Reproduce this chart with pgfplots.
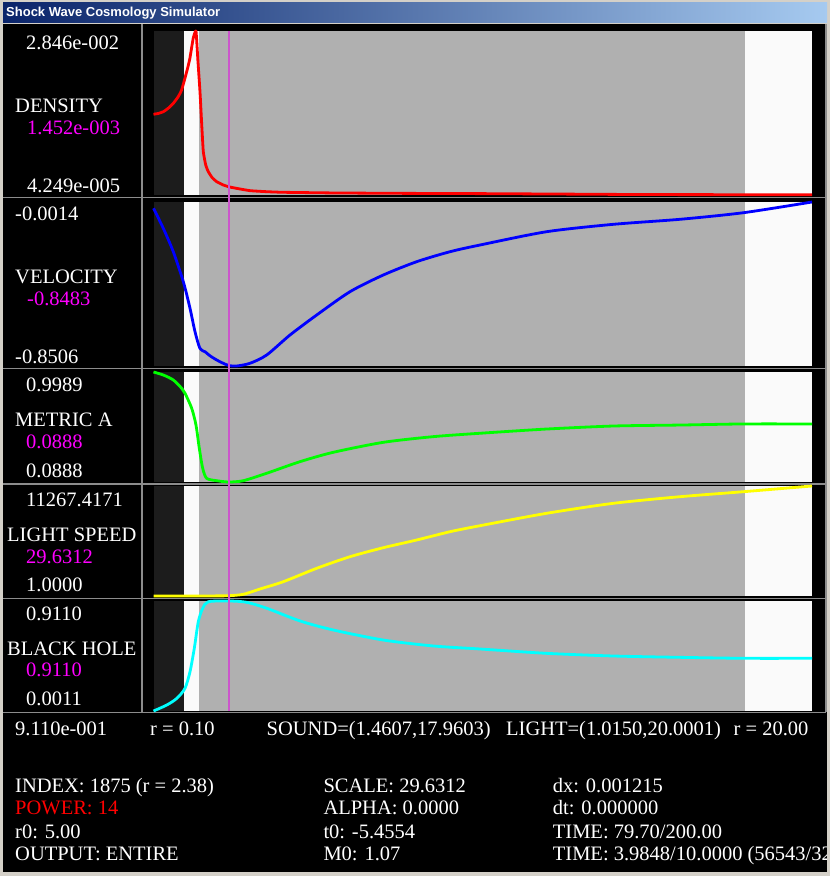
\documentclass[border=0pt]{standalone}
\usepackage{fontspec}
\setmainfont{Liberation Serif}
\newfontfamily\titlefont{Liberation Sans}
\usepackage{pgfplots}
\pgfplotsset{compat=1.18}

\definecolor{winborder}{HTML}{D4D0C8}
\definecolor{titleleft}{HTML}{0A246A}
\definecolor{titleright}{HTML}{A6CAF0}
\definecolor{sepgray}{HTML}{8C8C8C}
\definecolor{stripdark}{HTML}{1C1C1C}
\definecolor{stripwhite}{HTML}{FAFAFA}
\definecolor{stripgray}{HTML}{B0B0B0}
\definecolor{cursorcol}{HTML}{CC55CC}
\definecolor{readout}{HTML}{FF00FF}
\definecolor{cred}{HTML}{FF0000}
\definecolor{cblue}{HTML}{0000FF}
\definecolor{cgreen}{HTML}{00FF00}
\definecolor{cyellow}{HTML}{FFFF00}
\definecolor{ccyan}{HTML}{00FFFF}

% light / sound horizons shade the r axis
\newcommand\strips{%
  \fill[stripdark]  ({axis cs:0.1,0}|-{rel axis cs:0,0}) rectangle ({axis cs:1.015,0}|-{rel axis cs:0,1});
  \fill[stripwhite] ({axis cs:1.015,0}|-{rel axis cs:0,0}) rectangle ({axis cs:1.4607,0}|-{rel axis cs:0,1});
  \fill[stripgray]  ({axis cs:1.4607,0}|-{rel axis cs:0,0}) rectangle ({axis cs:17.9603,0}|-{rel axis cs:0,1});
  \fill[stripwhite] ({axis cs:17.9603,0}|-{rel axis cs:0,0}) rectangle ({axis cs:20,0}|-{rel axis cs:0,1});
}
\newcommand\txt[4][white]{\node[anchor=base west,inner sep=0pt,text=#1] at (#2,876-#3) {#4};}

\pgfplotsset{panel/.style={hide axis, scale only axis, width=658.5pt,
    xmin=0.1, xmax=20, clip=false, anchor=south west},
  curve/.style={line width=2.8pt, line join=round, smooth, tension=0.45}}

\begin{document}
\begin{tikzpicture}[x=1pt,y=1pt,every node/.style={font=\fontsize{20.5}{24}\selectfont}]
% window
\fill[winborder] (0,0) rectangle (830,876);
\fill[black] (3,4) rectangle (827,852);
\shade[left color=titleleft,right color=titleright] (3,853) rectangle (827,873);
\node[anchor=west,inner sep=0pt,text=white,font=\titlefont\bfseries\fontsize{13}{15}\selectfont] at (6,862.5) {Shock Wave Cosmology Simulator};

% separators
\begin{scope}[sepgray,line width=1.2pt]
\draw (3,678.5) -- (826,678.5);
\draw (3,507.5) -- (826,507.5);
\draw (3,392) -- (826,392);
\draw (3,277.5) -- (826,277.5);
\draw (3,163.5) -- (826,163.5);
\draw (142,852) -- (142,163.5);
\draw (826,852) -- (826,163.5);
\end{scope}

% DENSITY
\begin{axis}[panel, at={(153.5pt,681pt)}, height=164pt, ymin=4.249e-5, ymax=2.846e-2]
\strips
\addplot[curve, tension=0.25, cred] coordinates {
(0.10,0.01403) (0.25,0.01418) (0.40,0.01448) (0.55,0.01510) (0.70,0.01593)
(0.85,0.01710) (0.95,0.01824) (1.05,0.02027) (1.13,0.02200) (1.20,0.02373)
(1.30,0.02720) (1.384,0.02846) (1.44,0.02350) (1.505,0.01794) (1.555,0.01250)
(1.605,0.00755) (1.68,0.00520) (1.756,0.00408) (1.88,0.00300) (2.01,0.00235)
(2.20,0.00180) (2.38,0.001452) (2.70,0.00110) (3.02,0.00079) (3.50,0.00062)
(4.02,0.00051) (5.50,0.00040) (7.50,0.00033) (10.0,0.00028) (12.5,0.00020)
(15.0,0.00012) (20.0,0.00008)};
\coordinate (ctop) at ({axis cs:2.38,0}|-{rel axis cs:0,1});
\end{axis}

% VELOCITY
\begin{axis}[panel, at={(153.5pt,510pt)}, height=164pt, ymin=-0.8506, ymax=-0.0014]
\strips
\addplot[curve, cblue] coordinates {
(0.10,-0.0340) (0.396,-0.1376) (0.698,-0.2588) (1.001,-0.4141) (1.203,-0.5518)
(1.354,-0.6730) (1.505,-0.7600) (1.66,-0.7770) (1.80,-0.7970) (2.01,-0.8195)
(2.20,-0.8360) (2.38,-0.8483) (2.614,-0.8506) (3.016,-0.8366) (3.521,-0.7936)
(4.225,-0.6901) (5.032,-0.5865) (6.038,-0.4659) (7.045,-0.3794) (8.054,-0.3105)
(9.061,-0.2588) (9.967,-0.2241) (11.98,-0.1552) (14.0,-0.1169) (16.01,-0.0910)
(17.93,-0.0568) (20.0,-0.0014)};
\end{axis}

% METRIC A
\begin{axis}[panel, at={(153.5pt,394pt)}, height=110pt, ymin=0.0888, ymax=0.9989]
\strips
\addplot[curve, cgreen] coordinates {
(0.10,0.9989) (0.396,0.974) (0.698,0.933) (0.952,0.864) (1.052,0.823)
(1.254,0.699) (1.384,0.560) (1.484,0.368) (1.587,0.202) (1.708,0.119)
(2.01,0.0996) (2.373,0.0888) (2.814,0.0996) (3.521,0.161) (4.527,0.257)
(5.534,0.3345) (7.045,0.417) (8.556,0.464) (9.967,0.492) (11.98,0.527)
(14.0,0.552) (16.01,0.560) (17.93,0.569) (20.0,0.569)};
\end{axis}

% LIGHT SPEED
\begin{axis}[panel, at={(153.5pt,280pt)}, height=110pt, ymin=1, ymax=11267.4171]
\strips
\addplot[curve, cyellow] coordinates {
(0.10,1) (1.50,2) (2.00,12) (2.38,29.63) (2.814,175) (3.318,718) (4.023,1466)
(5.032,2838) (6.038,4026) (7.045,4948) (8.054,5737) (9.061,6587) (9.967,7201)
(11.98,8471) (14.0,9495) (16.01,10171) (17.93,10684) (20.0,11267.4171)};
\end{axis}

% BLACK HOLE
\begin{axis}[panel, at={(153.5pt,165pt)}, height=110pt, ymin=0.0011, ymax=0.9110]
\strips
\addplot[curve, ccyan] coordinates {
(0.10,0.0011) (0.505,0.051) (0.807,0.106) (1.052,0.189) (1.203,0.326)
(1.333,0.520) (1.454,0.740) (1.587,0.851) (1.756,0.905) (2.38,0.9110)
(2.917,0.900) (3.521,0.851) (4.527,0.746) (5.534,0.671) (7.045,0.588)
(8.556,0.539) (9.967,0.514) (11.98,0.478) (14.0,0.456) (16.01,0.445)
(17.93,0.437) (20.0,0.437)};
\coordinate (cbot) at ({axis cs:2.38,0}|-{rel axis cs:0,0});
\end{axis}

% cursor at r = 2.38
\draw[cursorcol,line width=1.3pt] (ctop) -- (cbot);

% left labels
\txt{26}{50}{2.846e-002}
\txt{15}{113}{DENSITY}
\txt[readout]{27}{135}{1.452e-003}
\txt{27}{193}{4.249e-005}
\txt{15}{221}{-0.0014}
\txt{15}{284}{VELOCITY}
\txt[readout]{27}{306}{-0.8483}
\txt{15}{364}{-0.8506}
\txt{26}{392}{0.9989}
\txt{15}{427}{METRIC A}
\txt[readout]{26}{449}{0.0888}
\txt{26}{478}{0.0888}
\txt{26}{507}{11267.4171}
\txt{7}{541.5}{LIGHT SPEED}
\txt[readout]{26}{564}{29.6312}
\txt{26}{592}{1.0000}
\txt{26}{621}{0.9110}
\txt{7}{655.5}{BLACK HOLE}
\txt[readout]{26}{677}{0.9110}
\txt{26}{706}{0.0011}

% status line
\txt{15}{735.5}{9.110e-001}
\txt{150}{735.5}{r = 0.10}
\txt{266.5}{735.5}{SOUND=(1.4607,17.9603)}
\txt{506}{735.5}{LIGHT=(1.0150,20.0001)}
\txt{733.5}{735.5}{r = 20.00}

% info block
\begin{scope}
\clip (3,4) rectangle (826,852);
\txt{15}{792.7}{INDEX: 1875 (r = 2.38)}
\txt[red]{15}{815}{POWER: 14}
\txt{15}{838.3}{r0: 5.00}
\txt{15}{860.7}{OUTPUT: ENTIRE}
\txt{323.3}{792.7}{SCALE: 29.6312}
\txt{323.3}{815}{ALPHA: 0.0000}
\txt{323.3}{838.3}{t0: -5.4554}
\txt{323.3}{860.7}{M0: 1.07}
\txt{552.7}{792.7}{dx: 0.001215}
\txt{552.7}{815}{dt: 0.000000}
\txt{552.7}{838.3}{TIME: 79.70/200.00}
\txt{552.7}{860.7}{TIME: 3.9848/10.0000 (56543/32000)}
\end{scope}
\end{tikzpicture}
\end{document}
